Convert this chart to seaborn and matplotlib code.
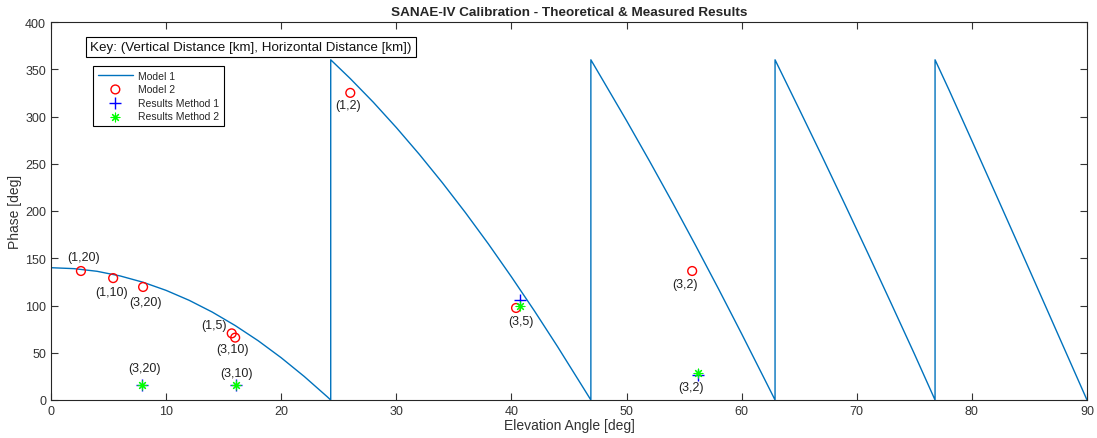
import matplotlib
matplotlib.use("Agg")
import matplotlib.pyplot as plt
import seaborn as sns
import pandas as pd

# ---- data ----
model1_x = [0, 2, 4, 6, 8, 10, 12, 14, 16, 18, 20, 22, 24, 24.3,
            24.3, 26, 28, 30, 32, 34, 36, 38, 40, 42, 44, 46, 46.9,
            46.9, 48, 50, 52, 54, 56, 58, 60, 62, 62.9,
            62.9, 65, 67, 69, 71, 73, 75, 76.8,
            76.8, 78, 80, 82, 84, 86, 88, 90]
model1_y = [140, 139.0, 136.2, 131.3, 124.6, 116.0, 105.5, 93.1, 78.8, 62.7, 44.7, 24.9, 3.4, 0,
            360, 340.1, 315.1, 288.3, 259.9, 229.9, 198.3, 165.1, 130.3, 94.2, 56.6, 17.6, 0,
            360, 337.2, 295.6, 252.7, 208.7, 163.5, 117.3, 70.0, 21.8, 0,
            360, 307.7, 257.4, 206.2, 154.4, 101.9, 48.9, 0,
            360, 328.5, 274.4, 219.9, 165.2, 110.2, 55.1, 0]

model2_x = [2.6, 5.4, 8.0, 15.7, 16.0, 26.0, 40.4, 55.7]
model2_y = [136.5, 129.0, 119.6, 70.5, 66.0, 325.0, 97.4, 136.5]
model2_labels = ["(1,20)", "(1,10)", "(3,20)", "(1,5)", "(3,10)", "(1,2)", "(3,5)", "(3,2)"]
model2_label_x = [2.85, 5.3, 8.2, 14.2, 15.75, 25.8, 40.8, 55.05]
model2_label_y = [151, 114, 104, 79, 54, 312, 84, 123]

meth1_x = [7.9, 16.1, 40.7, 56.2]
meth1_y = [15.5, 15.5, 105.5, 26.0]
meth2_x = [7.9, 16.1, 40.7, 56.2]
meth2_y = [15.5, 15.5, 100.0, 28.5]
meas_labels = ["(3,20)", "(3,10)", "(3,2)"]
meas_label_x = [8.1, 16.1, 55.6]
meas_label_y = [33.5, 29, 14]

title = "SANAE-IV Calibration - Theoretical & Measured Results"
xlabel = "Elevation Angle [deg]"
ylabel = "Phase [deg]"
key_text = "Key: (Vertical Distance [km], Horizontal Distance [km])"

# ---- plot ----
sns.set_style("ticks")
plt.rcParams["font.family"] = ["Liberation Sans", "DejaVu Sans"]

fig = plt.figure(figsize=(10.97, 4.39), dpi=100)
ax = fig.add_axes([51 / 1097, 1 - 401 / 439, 1036 / 1097, 378 / 439])

df1 = pd.DataFrame({"x": model1_x, "y": model1_y})
sns.lineplot(data=df1, x="x", y="y", sort=False, estimator=None, color="#0072BD",
             linewidth=1.0, ax=ax, label="Model 1")
sns.scatterplot(x=model2_x, y=model2_y, marker="o", s=40, color="red", facecolor="none",
                edgecolor="red", linewidth=1.0, ax=ax, label="Model 2", zorder=3)
sns.scatterplot(x=meth1_x, y=meth1_y, marker="+", s=70, color="blue", linewidth=1.0,
                ax=ax, label="Results Method 1", zorder=3)
sns.scatterplot(x=meth2_x, y=meth2_y, marker=(8, 2, 0), s=40, color="#00FF00", linewidth=0.8,
                ax=ax, label="Results Method 2", zorder=4)

for lx, ly, t in zip(model2_label_x, model2_label_y, model2_labels):
    ax.text(lx, ly, t, ha="center", va="center", fontsize=9, color="#222222")
for lx, ly, t in zip(meas_label_x, meas_label_y, meas_labels):
    ax.text(lx, ly, t, ha="center", va="center", fontsize=9, color="#222222")

ax.set_xlim(0, 90)
ax.set_ylim(0, 400)
ax.set_xticks(range(0, 91, 10))
ax.set_yticks(range(0, 401, 50))
ax.tick_params(direction="in", top=True, right=True, length=5, width=0.8,
               labelsize=9, colors="#333333", labelcolor="#333333")
for sp in ax.spines.values():
    sp.set_color("#262626")
    sp.set_linewidth(0.8)
ax.set_xlabel(xlabel, fontsize=10, color="#333333", labelpad=1)
ax.set_ylabel(ylabel, fontsize=10, color="#333333", labelpad=2)
ax.set_title(title, fontsize=9.7, fontweight="bold", pad=5)

ax.text(0.038, 0.933, key_text, transform=ax.transAxes, ha="left", va="center",
        fontsize=9.6, color="#111111",
        bbox=dict(boxstyle="square,pad=0.3", facecolor="white", edgecolor="black", linewidth=0.8))

leg = ax.legend(loc="upper left", bbox_to_anchor=(0.0405, 0.884), fontsize=7.5,
                frameon=True, fancybox=False, edgecolor="black", framealpha=1,
                handlelength=3.4, borderpad=0.45, labelspacing=0.35, handletextpad=0.5,
                borderaxespad=0)
leg.get_frame().set_linewidth(0.8)

fig.savefig("out.png", dpi=100)
